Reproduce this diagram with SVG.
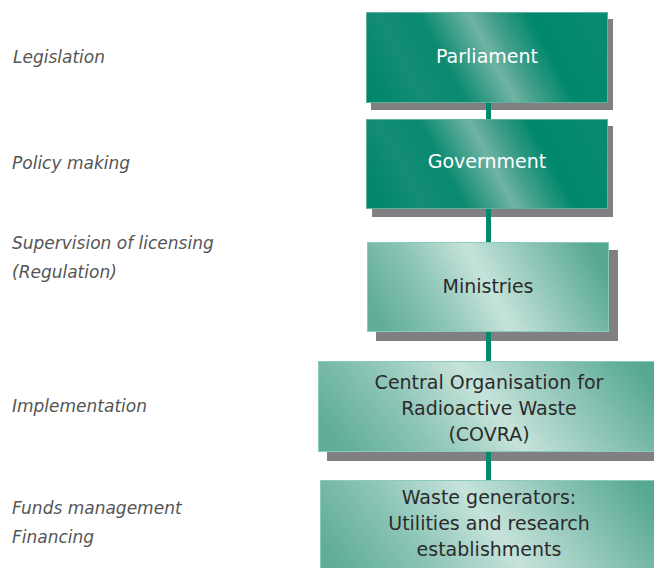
<svg xmlns="http://www.w3.org/2000/svg" width="654" height="568" viewBox="0 0 654 568">
<defs>
<linearGradient id="gDark" x1="0" y1="0.6" x2="1" y2="0.4">
<stop offset="0" stop-color="#03876c"/>
<stop offset="0.15" stop-color="#148d75"/>
<stop offset="0.32" stop-color="#0a8a70"/>
<stop offset="0.52" stop-color="#70b3a3"/>
<stop offset="0.6" stop-color="#48a18d"/>
<stop offset="0.76" stop-color="#00886c"/>
<stop offset="1" stop-color="#078a70"/>
</linearGradient>
<linearGradient id="gLight" x1="0" y1="0.6" x2="1" y2="0.4">
<stop offset="0" stop-color="#62ad9a"/>
<stop offset="0.25" stop-color="#8cc5b6"/>
<stop offset="0.5" stop-color="#c6e3db"/>
<stop offset="0.75" stop-color="#8ec5b7"/>
<stop offset="1" stop-color="#56a893"/>
</linearGradient>
</defs>
<style>
.lbl{font-family:"DejaVu Sans",sans-serif;font-style:italic;font-size:17px;fill:#555555}
.shadow{fill:#808083}
.dark{fill:url(#gDark);stroke:#5fb39d;stroke-width:1}
.light{fill:url(#gLight);stroke:#8ccab9;stroke-width:1}
.tw{font-family:"DejaVu Sans",sans-serif;font-size:19px;fill:#ffffff;text-anchor:middle}
.tb{font-family:"DejaVu Sans",sans-serif;font-size:19px;fill:#2b2b2b;text-anchor:middle}
.conn{stroke:#00886c;stroke-width:5;fill:none}
</style>
<g id="labels">
<text class="lbl" x="13" y="63">Legislation</text>
<text class="lbl" x="12" y="169">Policy making</text>
<text class="lbl" x="12" y="249">Supervision of licensing</text>
<text class="lbl" x="12" y="278">(Regulation)</text>
<text class="lbl" x="12" y="412">Implementation</text>
<text class="lbl" x="12" y="514">Funds management</text>
<text class="lbl" x="12" y="543">Financing</text>
</g>
<g id="shadows">
<rect class="shadow" x="371" y="19" width="242" height="91"/>
<rect class="shadow" x="372" y="126" width="241" height="91"/>
<rect class="shadow" x="376" y="250" width="242" height="91"/>
<rect class="shadow" x="327" y="369" width="340" height="92"/>
</g>
<g id="connectors">
<line class="conn" x1="488.5" y1="100" x2="488.5" y2="120"/>
<line class="conn" x1="488.5" y1="205" x2="488.5" y2="244"/>
<line class="conn" x1="488.5" y1="330" x2="488.5" y2="363"/>
<line class="conn" x1="488.5" y1="450" x2="488.5" y2="482"/>
</g>
<g id="parliament">
<rect class="dark" x="366.5" y="12.5" width="241" height="90"/>
<text class="tw" x="487" y="63">Parliament</text>
</g>
<g id="government">
<rect class="dark" x="366.5" y="119.5" width="241" height="89"/>
<text class="tw" x="487" y="168">Government</text>
</g>
<g id="ministries">
<rect class="light" x="367.5" y="242.5" width="241" height="89"/>
<text class="tb" x="488" y="293">Ministries</text>
</g>
<g id="covra">
<rect class="light" x="318.5" y="361.5" width="345" height="90"/>
<text class="tb" x="489" y="389">Central Organisation for</text>
<text class="tb" x="489" y="415">Radioactive Waste</text>
<text class="tb" x="489" y="441">(COVRA)</text>
</g>
<g id="waste">
<rect class="light" x="320.5" y="480.5" width="345" height="95"/>
<text class="tb" x="489" y="504">Waste generators:</text>
<text class="tb" x="489" y="530">Utilities and research</text>
<text class="tb" x="489" y="556">establishments</text>
</g>
</svg>
